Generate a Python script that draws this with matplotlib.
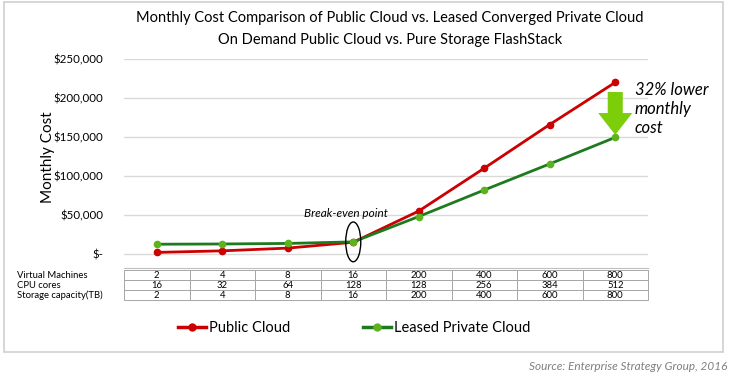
import matplotlib
matplotlib.use("Agg")
import matplotlib.pyplot as plt
from matplotlib.table import Table
from matplotlib.patches import Ellipse, FancyArrow, Rectangle
from matplotlib.ticker import FuncFormatter
from matplotlib.lines import Line2D

plt.rcParams['font.family'] = ['Lato', 'DejaVu Sans']

# data
public_cloud = [2000, 4000, 7500, 15000, 55000, 110000, 166000, 220000]
private_cloud = [12500, 12800, 13500, 15500, 48000, 82000, 115500, 149500]
row_labels = ["Virtual Machines", "CPU cores", "Storage capacity(TB)"]
virtual_machines = [2, 4, 8, 16, 200, 400, 600, 800]
cpu_cores = [16, 32, 64, 128, 128, 256, 384, 512]
storage_tb = [2, 4, 8, 16, 200, 400, 600, 800]
y_ticks = [0, 50000, 100000, 150000, 200000, 250000]

red = "#CC0000"
green_line = "#1E7A1E"
green_dot = "#5DB31C"

fig = plt.figure(figsize=(7.32, 3.79), dpi=100)
fig.patch.set_facecolor("white")

# chart frame
fig.patches.append(Rectangle((4 / 732, 1 - 352 / 379), 719 / 732, 350 / 379,
                             transform=fig.transFigure, fill=False,
                             edgecolor="#D0D0D0", lw=1.2))

ax = fig.add_axes([124 / 732, 1 - 268 / 379, 524 / 732, 209 / 379])
x = list(range(len(public_cloud)))

ax.plot(x, public_cloud, color=red, lw=2, marker="o", ms=4.5,
        mfc=red, mec=red, zorder=3)
ax.plot(x, private_cloud, color=green_line, lw=2, marker="o", ms=4.5,
        mfc=green_dot, mec=green_dot, zorder=4)

ax.set_xlim(-0.5, 7.5)
ax.set_ylim(-18000, 250000)
ax.set_yticks(y_ticks)
ax.yaxis.set_major_formatter(FuncFormatter(lambda v, p: "$-" if v == 0 else "${:,.0f}".format(v)))
ax.tick_params(axis="y", length=0, pad=15, labelsize=8.3)
ax.set_xticks([])
ax.grid(axis="y", color="#D9D9D9", lw=1)
ax.set_axisbelow(True)
for s in ["left", "right", "top"]:
    ax.spines[s].set_visible(False)
ax.spines["bottom"].set_color("#BFBFBF")
ax.set_ylabel("Monthly Cost", fontsize=11)
ax.yaxis.set_label_coords((55 - 124) / 524, 0.53)

# data table under the plot
tbl = Table(ax, bbox=[(17 - 124) / 524, -32 / 209, 631 / 524, 30 / 209])
rows = [virtual_machines, cpu_cores, storage_tb]
first_w = 107 / 631
col_w = 65.5 / 631
for r, (label, vals) in enumerate(zip(row_labels, rows)):
    c = tbl.add_cell(r, 0, width=first_w, height=1 / 3, text=label, loc="left")
    c.visible_edges = "open"
    c.PAD = 0.0
    for j, v in enumerate(vals):
        c = tbl.add_cell(r, j + 1, width=col_w, height=1 / 3, text=str(v), loc="center")
        c.set_edgecolor("#A6A6A6")
        c.set_linewidth(0.7)
tbl.auto_set_font_size(False)
tbl.set_fontsize(6.8)
ax.add_table(tbl)

# annotations
ax.text(2.89, 52500, "Break-even point", style="italic", fontsize=8.5,
        ha="center", va="center")
ax.add_patch(Ellipse((3, 15500), 0.23, 51000, fill=False, edgecolor="black",
                     lw=1, zorder=5, clip_on=False))
ax.add_patch(FancyArrow(7, 207700, 0, -55000, width=0.23, head_width=0.52,
                        head_length=28000, length_includes_head=True,
                        color="#7CCD0A", lw=0, zorder=5, clip_on=False))
ax.text(7.3, 220000, "32% lower\nmonthly\ncost", style="italic", fontsize=12,
        ha="left", va="top", clip_on=False)

# titles
fig.text(0.533, 1 - 18 / 379, "Monthly Cost Comparison of Public Cloud vs. Leased Converged Private Cloud",
         ha="center", va="center", fontsize=10.5)
fig.text(0.533, 1 - 40 / 379, "On Demand Public Cloud vs. Pure Storage FlashStack",
         ha="center", va="center", fontsize=10.5)

# legend
handles = [Line2D([], [], color=red, lw=2.5, marker="o", ms=5, mfc=red, mec=red),
           Line2D([], [], color=green_line, lw=2.5, marker="o", ms=5, mfc=green_dot, mec=green_dot)]
fig.legend(handles, ["Public Cloud", "Leased Private Cloud"], loc="center",
           bbox_to_anchor=(354 / 732, 1 - 328 / 379), ncol=2, frameon=False,
           fontsize=10.5, handlelength=1.9, handletextpad=0.2, columnspacing=5.0)

fig.text(727 / 732, 1 - 367 / 379, "Source: Enterprise Strategy Group, 2016",
         ha="right", va="center", style="italic", fontsize=8.5, color="#7F7F7F")

fig.savefig("out.png", dpi=100)
